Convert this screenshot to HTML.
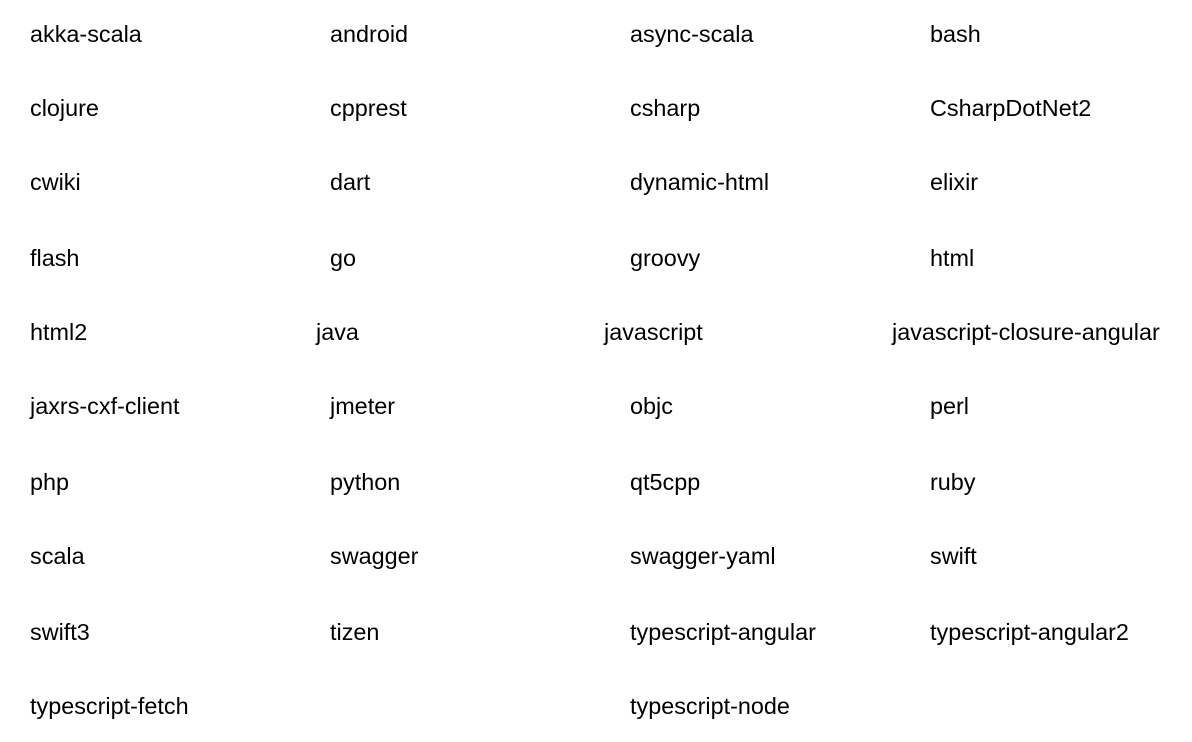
<!DOCTYPE html>
<html><head><meta charset="utf-8"><style>
html,body{margin:0;padding:0;background:#fff;}
body{width:1192px;height:742px;position:relative;overflow:hidden;font-family:"Liberation Sans",Arial,sans-serif;font-size:23.4px;color:#000;}
span{position:absolute;line-height:30px;white-space:nowrap;transform:translateY(-15px);}
</style></head><body>
<span style="left:30px;top:34px">akka-scala</span>
<span style="left:330px;top:34px">android</span>
<span style="left:630px;top:34px">async-scala</span>
<span style="left:930px;top:34px">bash</span>

<span style="left:30px;top:108px">clojure</span>
<span style="left:330px;top:108px">cpprest</span>
<span style="left:630px;top:108px">csharp</span>
<span style="left:930px;top:108px">CsharpDotNet2</span>

<span style="left:30px;top:182px">cwiki</span>
<span style="left:330px;top:182px">dart</span>
<span style="left:630px;top:182px">dynamic-html</span>
<span style="left:930px;top:182px">elixir</span>

<span style="left:30px;top:258px">flash</span>
<span style="left:330px;top:258px">go</span>
<span style="left:630px;top:258px">groovy</span>
<span style="left:930px;top:258px">html</span>

<span style="left:30px;top:332px">html2</span>
<span style="left:316px;top:332px">java</span>
<span style="left:604px;top:332px">javascript</span>
<span style="left:892px;top:332px">javascript-closure-angular</span>

<span style="left:30px;top:406px">jaxrs-cxf-client</span>
<span style="left:330px;top:406px">jmeter</span>
<span style="left:630px;top:406px">objc</span>
<span style="left:930px;top:406px">perl</span>

<span style="left:30px;top:482px">php</span>
<span style="left:330px;top:482px">python</span>
<span style="left:630px;top:482px">qt5cpp</span>
<span style="left:930px;top:482px">ruby</span>

<span style="left:30px;top:556px">scala</span>
<span style="left:330px;top:556px">swagger</span>
<span style="left:630px;top:556px">swagger-yaml</span>
<span style="left:930px;top:556px">swift</span>

<span style="left:30px;top:632px">swift3</span>
<span style="left:330px;top:632px">tizen</span>
<span style="left:630px;top:632px">typescript-angular</span>
<span style="left:930px;top:632px">typescript-angular2</span>

<span style="left:30px;top:706px">typescript-fetch</span>
<span style="left:630px;top:706px">typescript-node</span>
</body></html>
